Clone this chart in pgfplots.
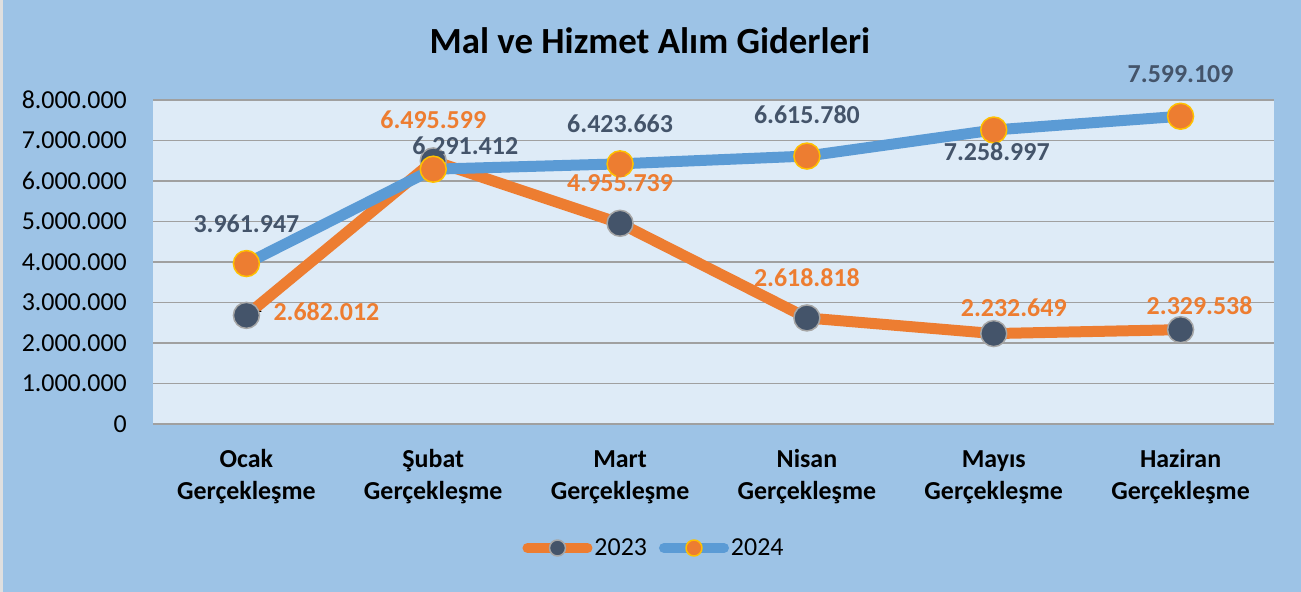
\documentclass[border=0pt]{standalone}
\usepackage{pgfplots}
\pgfplotsset{compat=1.18}
\usepackage{pgfplotstable}
\usepackage{fontspec}
\setmainfont{Carlito}
\definecolor{bgout}{HTML}{9DC3E6}
\definecolor{bgin}{HTML}{DEEBF7}
\definecolor{orng}{HTML}{ED7D31}
\definecolor{blu}{HTML}{5B9BD5}
\definecolor{dark}{HTML}{44546A}
\definecolor{gold}{HTML}{FFC000}
\definecolor{gridc}{HTML}{A0A0A0}

\pgfplotstableread{
x y lbl dx dy
0 2682012 2.682.012 80 4
1 6495599 6.495.599 0 41
2 4955739 4.955.739 0 40
3 2618818 2.618.818 0 40
4 2232649 2.232.649 20 26
5 2329538 2.329.538 19 24
}\tabA
\pgfplotstableread{
x y lbl dx dy
0 3961947 3.961.947 0 40
1 6291412 6.291.412 32 23
2 6423663 6.423.663 0 40
3 6615780 6.615.780 0 41
4 7258997 7.258.997 3 -22
5 7599109 7.599.109 0 42
}\tabB

\begin{document}
\begin{tikzpicture}
\fill[bgout] (0,0) rectangle (1301bp,592bp);
\fill[gray!25] (0,0) rectangle (3bp,592bp);
\begin{axis}[
  at={(153bp,168bp)}, anchor=south west,
  scale only axis, width=1121bp, height=324bp,
  xmin=-0.5, xmax=5.5, ymin=0, ymax=8000000,
  axis background/.style={fill=bgin},
  axis line style={draw=none},
  ymajorgrids, grid style={gridc, line width=1.5bp},
  major tick length=0,
  scaled y ticks=false,
  ytick={0,1000000,2000000,3000000,4000000,5000000,6000000,7000000,8000000},
  yticklabels={0,1.000.000,2.000.000,3.000.000,4.000.000,5.000.000,6.000.000,7.000.000,8.000.000},
  yticklabel style={font=\fontsize{26}{30}\selectfont, anchor=east, inner sep=0pt, xshift=-26bp},
  xtick={0,1,2,3,4,5},
  xticklabels={{\strut Ocak\\\strut Gerçekleşme},{\strut Şubat\\\strut Gerçekleşme},{\strut Mart\\\strut Gerçekleşme},{\strut Nisan\\\strut Gerçekleşme},{\strut Mayıs\\\strut Gerçekleşme},{\strut Haziran\\\strut Gerçekleşme}},
  xticklabel style={align=center, font=\bfseries\fontsize{26}{32}\selectfont, anchor=north, inner sep=0pt, yshift=-21bp},
  title={Mal ve Hizmet Alım Giderleri},
  title style={font=\bfseries\fontsize{37}{40}\selectfont, at={(axis description cs:0.5,1)}, anchor=center, xshift=-63.5bp, yshift=53bp},
  legend style={at={(axis description cs:0.5,0)}, anchor=center, xshift=-59.5bp, yshift=-124bp, draw=none, fill=none, font=\fontsize{26}{30}\selectfont, legend columns=2, /tikz/every even column/.append style={column sep=10bp}},
  legend image code/.code={\draw[#1, line width=10bp, line cap=round, mark size=8bp, mark repeat=2, mark phase=2] plot coordinates {(0bp,0bp) (30bp,0bp) (60bp,0bp)};},
  clip=false,
]
\addplot[orng, line width=11bp, line join=round, mark=*, mark size=13bp, mark options={fill=dark, draw=gray!70, line width=1.5bp}] table[x=x,y=y] {\tabA};
\addlegendentry{2023}
\addplot[blu, line width=11bp, line join=round, mark=*, mark size=13bp, mark options={fill=orng, draw=gold, line width=1.5bp}] table[x=x,y=y] {\tabB};
\addlegendentry{2024}
\draw[black, line width=1bp] (axis cs:0.01,2682012) -- ++(6bp,4bp) -- ++(7bp,0bp);
\addplot[draw=none, mark=none, forget plot, nodes near coords, point meta=explicit symbolic,
  visualization depends on={\thisrow{dx} \as \lblx},
  visualization depends on={\thisrow{dy} \as \lbly},
  every node near coord/.append style={anchor=center, xshift=\lblx bp, yshift=\lbly bp, font=\bfseries\fontsize{26}{30}\selectfont, text=orng}]
  table[x=x, y=y, meta=lbl] {\tabA};
\addplot[draw=none, mark=none, forget plot, nodes near coords, point meta=explicit symbolic,
  visualization depends on={\thisrow{dx} \as \lblx},
  visualization depends on={\thisrow{dy} \as \lbly},
  every node near coord/.append style={anchor=center, xshift=\lblx bp, yshift=\lbly bp, font=\bfseries\fontsize{26}{30}\selectfont, text=dark}]
  table[x=x, y=y, meta=lbl] {\tabB};
\end{axis}
\end{tikzpicture}
\end{document}
